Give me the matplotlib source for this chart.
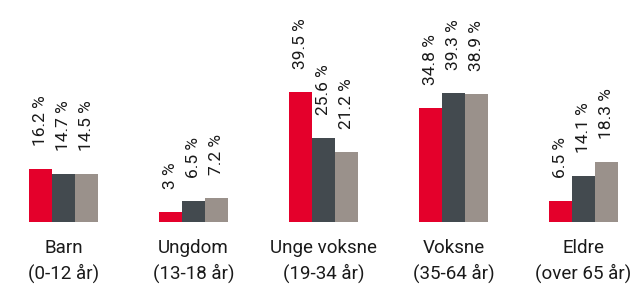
import numpy as np
import matplotlib.pyplot as plt

plt.rcParams['font.family'] = ['Roboto', 'DejaVu Sans']

categories = ['Barn\n(0-12 år)', 'Ungdom\n(13-18 år)', 'Unge voksne\n(19-34 år)',
              'Voksne\n(35-64 år)', 'Eldre\n(over 65 år)']
series_a = [16.2, 3, 39.5, 34.8, 6.5]
series_b = [14.7, 6.5, 25.6, 39.3, 14.1]
series_c = [14.5, 7.2, 21.2, 38.9, 18.3]
labels_a = ['16.2 %', '3 %', '39.5 %', '34.8 %', '6.5 %']
labels_b = ['14.7 %', '6.5 %', '25.6 %', '39.3 %', '14.1 %']
labels_c = ['14.5 %', '7.2 %', '21.2 %', '38.9 %', '18.3 %']

colors = ['#E4002B', '#434A4F', '#9A918B']

fig = plt.figure(figsize=(6.32, 2.89), dpi=100)
ax = fig.add_axes([0, 67 / 289, 1, 222 / 289])

x = np.arange(len(categories))
w = 0.177
for k, (vals, labs) in enumerate(zip([series_a, series_b, series_c],
                                     [labels_a, labels_b, labels_c])):
    xs = x + (k - 1) * w
    ax.bar(xs, vals, width=w, color=colors[k], linewidth=0)
    for xi, v, lab in zip(xs, vals, labs):
        ax.annotate(lab, (xi, v), xytext=(0, 16.5), textcoords='offset points',
                    rotation=90, ha='center', va='bottom', fontsize=12.5, color='#1a1a1a')

for xi, cat in zip(x, categories):
    ax.annotate(cat, (xi, 0), xytext=(0, -12.5), textcoords='offset points',
                ha='center', va='top', fontsize=13.5, color='#1a1a1a', linespacing=1.4,
                annotation_clip=False)

ax.set_xlim(-63.5 / 130, (632 - 63.5) / 130)
ax.set_ylim(0, 222 / 3.29)
ax.axis('off')

fig.savefig('out.png', dpi=100)
